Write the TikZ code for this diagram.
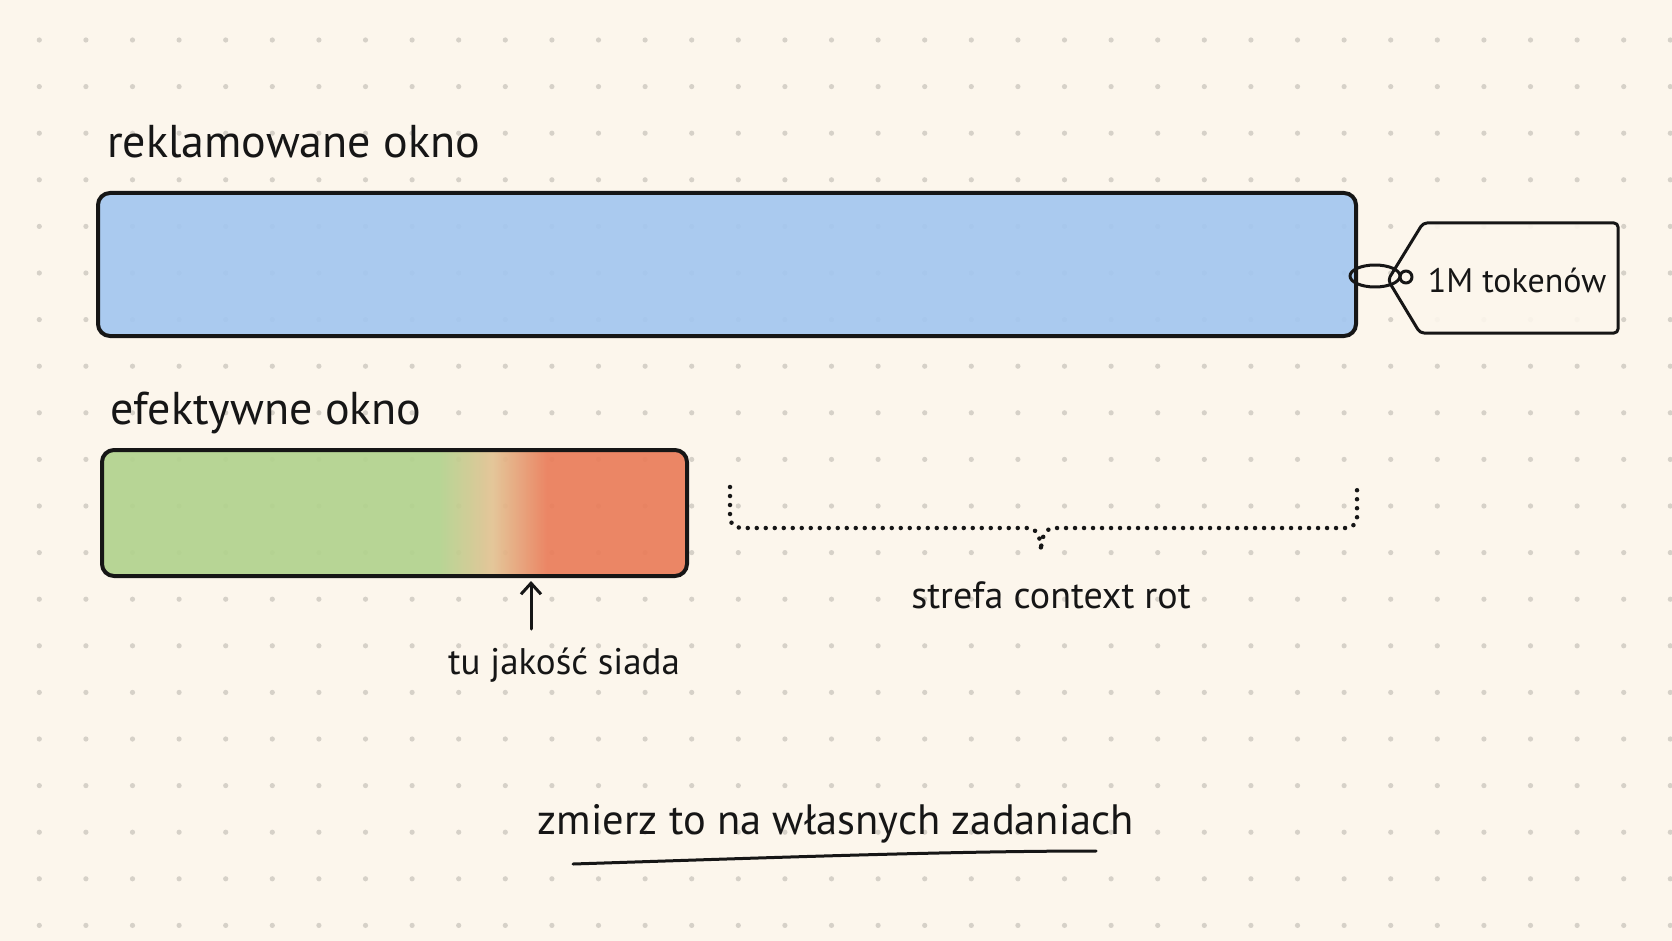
\documentclass[tikz,border=0pt]{standalone}
\usepackage{fontspec}
\setmainfont{PT Sans}
\usepackage{tikz}
\usetikzlibrary{arrows.meta, positioning}

\definecolor{paper}{HTML}{FCF6EC}
\definecolor{griddot}{HTML}{D6D1C8}
\definecolor{ink}{HTML}{161616}
\definecolor{washblue}{HTML}{A2C6F0}
\definecolor{washgreen}{HTML}{B2D38E}
\definecolor{washmid}{HTML}{E3C292}
\definecolor{washred}{HTML}{EA7D5A}

% path spans 25bp..75bp of the shading
\pgfdeclarehorizontalshading{qualitywash}{100bp}{color(0bp)=(washgreen); color(53.8bp)=(washgreen);
  color(58.4bp)=(washmid); color(63bp)=(washred); color(100bp)=(washred)}

\tikzset{
  heading/.style={font=\fontsize{46}{50}\selectfont, text=ink, anchor=base west, inner sep=0pt},
  remark/.style={font=\fontsize{38}{42}\selectfont, text=ink, anchor=base, inner sep=0pt},
  barline/.style={draw=ink, line width=4pt, rounded corners=12pt},
  ink line/.style={draw=ink, line width=3pt, line cap=round, line join=round},
  dotted brace/.style={draw=ink, line width=4.5pt, line cap=round, dash pattern=on 0pt off 9pt}
}

\begin{document}
\begin{tikzpicture}[x=1pt, y=-1pt]

% Paper and dot grid
\useasboundingbox (0,0) rectangle (1672,941);
\fill[paper] (0,0) rectangle (1672,941);
\foreach \i in {0,...,35}
  \foreach \j in {0,...,19}
    \fill[griddot] (39.3+46.6*\i, 40+46.6*\j) circle (2.6);

% Claimed window
\node[heading] (claimedtitle) at (107,158) {reklamowane okno};
\node[barline, fill=washblue, fill opacity=0.9, minimum width=1258pt, minimum height=143pt] (claimed) at (727,264.5) {};

% Tag with string
\draw[ink line, fill=paper, fill opacity=0.9, rounded corners=4pt] (1388,280) -- (1423,223) -- (1618,223) -- (1618,333) -- (1420,333) -- cycle;
\node[remark, font=\fontsize{34}{38}\selectfont, anchor=center] (tokens) at (1517,280) {1M tokenów};
\draw[ink line] (1406,277) circle (6);
\draw[ink line] (1375,276) ellipse (25 and 11);

% Effective window
\node[heading] (effectivetitle) at (110,424) {efektywne okno};
\shade[shading=qualitywash, fill opacity=0.92, rounded corners=12pt] (102,450) rectangle (687,576);
\node[barline, minimum width=585pt, minimum height=126pt] (effective) at (394.5,513) {};

% Where quality drops
\node[remark, font=\fontsize{37}{42}\selectfont] (drop) at (564,674) {tu jakość siada};
\coordinate (droptail) at (531,629);
\coordinate (droptip) at (531,581);
\draw[ink line, -{Straight Barb[length=11pt, width=20pt]}] (droptail) -- (droptip);

% Context rot zone
\coordinate (zoneleft) at (730,487);
\coordinate (zoneright) at (1357,487);
\coordinate (zonetip) at (1041,551);
\draw[dotted brace] (zoneleft) -- (730,518) to[out=-90, in=180] (742,528) -- (1028,528)
  to[out=0, in=90] (zonetip) to[out=90, in=180] (1054,528) -- (1345,528) to[out=0, in=-90] (1357,518) -- (zoneright);
\node[remark] (rotzone) at (1051,608) {strefa context rot};

% Closing hint
\node[remark, font=\fontsize{42.5}{46}\selectfont] (measure) at (836,834) {zmierz to na własnych zadaniach};
\coordinate (underleft) at (573,864);
\coordinate (underright) at (1096,851);
\draw[ink line] (underleft) .. controls (760,858) and (950,851) .. (underright);

\end{tikzpicture}
\end{document}
